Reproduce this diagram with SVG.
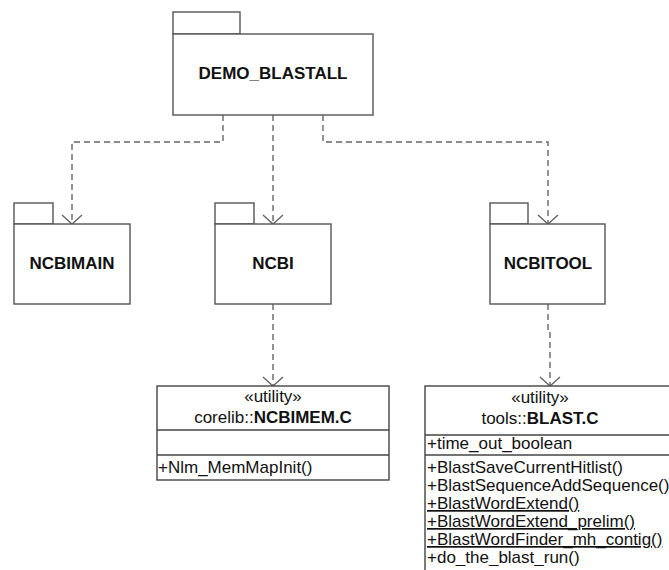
<svg xmlns="http://www.w3.org/2000/svg" width="669" height="570" viewBox="0 0 669 570">
<style>
.pkg{fill:#fff;stroke:#555;stroke-width:1.4}
.cls{fill:#fff;stroke:#444;stroke-width:1.4}
.pn{font-family:"Liberation Sans",Arial,sans-serif;font-weight:bold;font-size:17px;fill:#111;text-anchor:middle}
.t{font-family:"Liberation Sans",Arial,sans-serif;font-size:17px;fill:#111}
.c{text-anchor:middle}
.b{font-weight:bold}
.u{text-decoration:underline}
.dep{fill:none;stroke:#666;stroke-width:1.4;stroke-dasharray:6 4}
.ah{fill:none;stroke:#666;stroke-width:1.4}
</style>
<defs>
<clipPath id="clip"><rect x="0" y="0" width="669" height="566"/></clipPath>
</defs>
<rect width="669" height="570" fill="#fff"/>
<g id="connectors">
<path class="dep" d="M223 115 V142 H72 V224"/>
<path class="dep" d="M273 115 V224"/>
<path class="dep" d="M323 115 V142 H548 V224"/>
<path class="dep" d="M273 304 V386"/>
<path class="dep" d="M548 304 V332 H550 V386"/>
<path class="ah" d="M62 215 L72 224 L82 215"/>
<path class="ah" d="M263 215 L273 224 L283 215"/>
<path class="ah" d="M538 215 L548 224 L558 215"/>
<path class="ah" d="M263 377 L273 386 L283 377"/>
<path class="ah" d="M540 377 L550 386 L560 377"/>
</g>
<g id="DEMO_BLASTALL">
<rect class="pkg" x="173" y="12" width="67" height="22"/>
<rect class="pkg" x="173" y="34" width="200" height="81"/>
<text class="pn" x="273" y="79">DEMO_BLASTALL</text>
</g>
<g id="NCBIMAIN">
<rect class="pkg" x="14" y="203" width="39" height="21"/>
<rect class="pkg" x="14" y="224" width="116" height="80"/>
<text class="pn" x="72" y="269">NCBIMAIN</text>
</g>
<g id="NCBI">
<rect class="pkg" x="215" y="203" width="39" height="21"/>
<rect class="pkg" x="215" y="224" width="116" height="80"/>
<text class="pn" x="273" y="269">NCBI</text>
</g>
<g id="NCBITOOL">
<rect class="pkg" x="490" y="203" width="38" height="21"/>
<rect class="pkg" x="490" y="224" width="115" height="80"/>
<text class="pn" x="548" y="269">NCBITOOL</text>
</g>
<g id="NCBIMEM.C">
<rect class="cls" x="157" y="386" width="232" height="94"/>
<line class="cls" x1="157" y1="430" x2="389" y2="430"/>
<line class="cls" x1="157" y1="455" x2="389" y2="455"/>
<text class="t c" x="273" y="402">«utility»</text>
<text class="t c" x="273" y="423">corelib::<tspan class="b">NCBIMEM.C</tspan></text>
<text class="t" x="158" y="473">+Nlm_MemMapInit()</text>
</g>
<g id="BLAST.C">
<rect class="cls" x="425" y="386" width="260" height="200"/>
<line class="cls" x1="425" y1="435" x2="685" y2="435"/>
<line class="cls" x1="425" y1="455" x2="685" y2="455"/>
<text class="t c" x="540" y="403">«utility»</text>
<text class="t c" x="540" y="424">tools::<tspan class="b">BLAST.C</tspan></text>
<text class="t" x="427" y="449">+time_out_boolean</text>
<text class="t" x="427" y="473">+BlastSaveCurrentHitlist()</text>
<text class="t" x="427" y="491">+BlastSequenceAddSequence()</text>
<text class="t u" x="427" y="509">+BlastWordExtend()</text>
<text class="t u" x="427" y="527">+BlastWordExtend_prelim()</text>
<text class="t u" x="427" y="545">+BlastWordFinder_mh_contig()</text>
<text class="t" x="427" y="563" clip-path="url(#clip)">+do_the_blast_run()</text>
</g>
</svg>
